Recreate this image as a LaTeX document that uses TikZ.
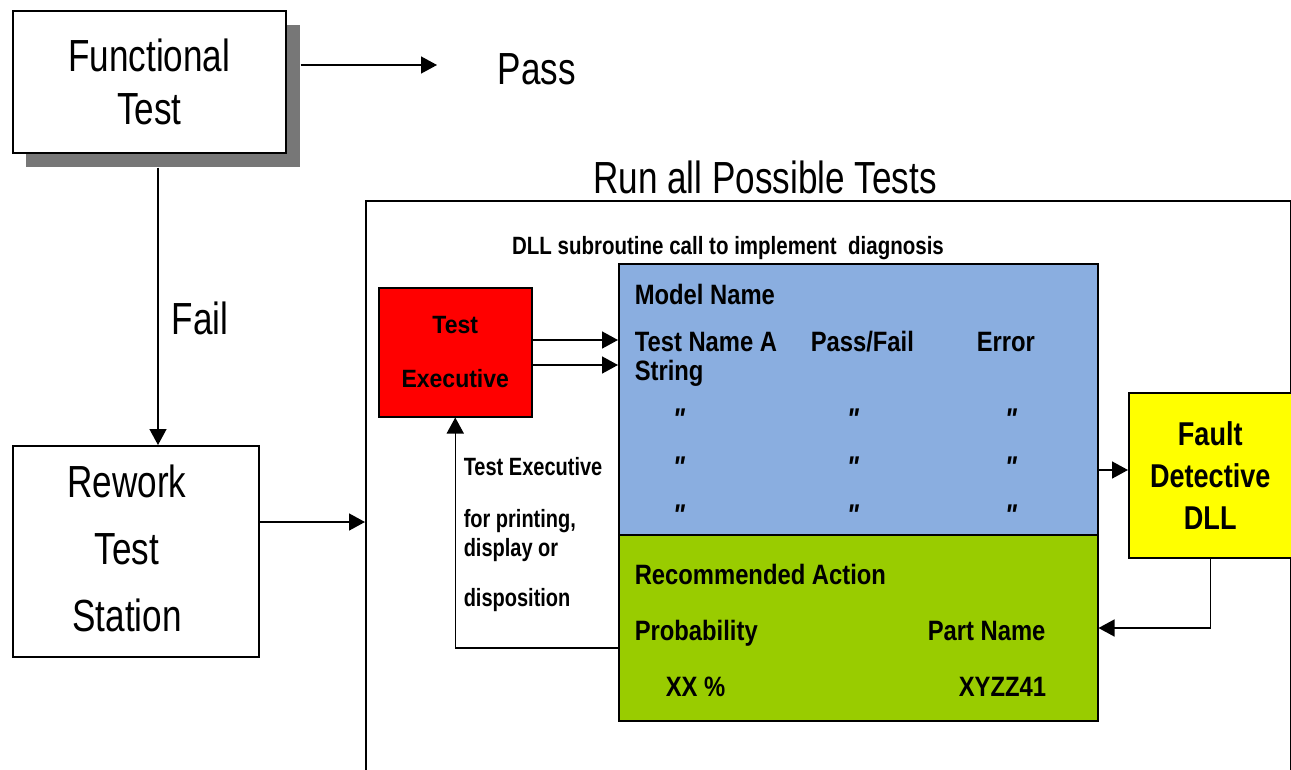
\documentclass[tikz,border=0pt]{standalone}
\usepackage{fontspec}
\setmainfont{Liberation Sans}[FakeStretch=0.82]
\newfontfamily\bigfam{Liberation Sans}[FakeStretch=0.78]
\newfontfamily\labfam{Liberation Sans}[FakeStretch=0.85]
\newfontfamily\redfam{Liberation Sans}[FakeStretch=0.92]
\newfontfamily\sidefam{Liberation Sans}[FakeStretch=0.80]
\newfontfamily\quotfam{Liberation Sans}[FakeStretch=0.85]
\usetikzlibrary{arrows.meta}
\definecolor{bluebox}{RGB}{138,174,224}
\definecolor{greenbox}{RGB}{153,204,0}
\definecolor{yellowbox}{RGB}{255,255,0}
\definecolor{shadowgray}{RGB}{119,119,119}
\begin{document}
\begin{tikzpicture}[x=1pt,y=-1pt,line width=1.5pt,
  arr/.style={-{Triangle[length=16pt,width=17pt]},line width=1.5pt},
  box/.style={draw,line width=1.5pt,anchor=north west,inner sep=0pt,align=center},
  bigtxt/.style={font=\bigfam\fontsize{45}{53}\selectfont},
  lbl/.style={anchor=base west,inner sep=0pt,font=\labfam\bfseries\fontsize{28}{34}\selectfont},
  side/.style={anchor=base west,inner sep=0pt,font=\sidefam\bfseries\fontsize{25}{28}\selectfont},
  quot/.style={inner sep=0pt,font=\quotfam\bfseries\itshape\fontsize{30}{30}\selectfont}]
\useasboundingbox (0,0) rectangle (1291,769);
% functional test with shadow
\node[fill=shadowgray,anchor=north west,inner sep=0pt,minimum width=274pt,minimum height=142pt] (ftshadow) at (25,24) {};
\node[box,fill=white,minimum width=273pt,minimum height=142pt,bigtxt] (ft) at (12,10) {Functional\\Test};
\node[anchor=base,inner sep=0pt,bigtxt] (pass) at (537,84) {Pass};
\coordinate (passin) at (437,65);
\draw[arr] (ftshadow.east |- passin) -- (passin);
% rework
\node[box,minimum width=246pt,minimum height=211pt] (rw) at (12,445) {};
\node[anchor=center,inner sep=0pt,align=center,font=\bigfam\fontsize{45}{67}\selectfont] (rwtext) at (127,548) {Rework\\Test\\Station};
\coordinate (failx) at (158,0);
\draw[arr] (failx |- ftshadow.south) -- (failx |- rw.north);
\node[anchor=base,inner sep=0pt,bigtxt] (fail) at (200,334) {Fail};
% big frame
\node[draw,anchor=north west,inner sep=0pt,minimum width=925pt,minimum height=620pt] (run) at (365,200) {};
\node[anchor=base,inner sep=0pt,bigtxt] (runlbl) at (765,193) {Run all Possible Tests};
\draw[arr] (rw.east |- 0,522) -- (run.west |- 0,522);
\node[anchor=base,inner sep=0pt,font=\bfseries\fontsize{25}{30}\selectfont] (dll) at (728,254) {DLL subroutine call to implement\ \ diagnosis};
% boxes
\node[box,fill=red,minimum width=153pt,minimum height=129pt,font=\redfam\bfseries\fontsize{25}{54}\selectfont] (te) at (378,287) {Test\\Executive};
\node[box,fill=bluebox,minimum width=479pt,minimum height=271pt] (blue) at (618,263) {};
\node[box,fill=greenbox,minimum width=479pt,minimum height=186pt] (green) at (618,534) {};
\node[box,fill=yellowbox,minimum width=163pt,minimum height=165pt,font=\bfseries\fontsize{33}{42}\selectfont] (yel) at (1128,392) {Fault\\Detective\\DLL};
% connectors
\draw[arr] (te.east |- 0,340) -- (blue.west |- 0,340);
\draw[arr] (te.east |- 0,365) -- (blue.west |- 0,365);
\draw[arr] (blue.east |- 0,470) -- (yel.west |- 0,470);
\draw[arr] (yel.south) -- (yel.south |- 0,628) -- (green.east |- 0,628);
\draw[arr] (green.west |- 0,648) -| (te.south);
% side text
\node[side] (s1) at (463,475) {Test Executive};
\node[side] (s2) at (463,527) {for printing,};
\node[side] (s3) at (463,556) {display or};
\node[side] (s4) at (463,606) {disposition};
% blue content
\node[lbl] (mn) at (634,304) {Model Name};
\node[lbl] (tna) at (634,351) {Test Name A};
\node[lbl] (str) at (634,380) {String};
\node[lbl] (pf) at (810,351) {Pass/Fail};
\node[lbl] (err) at (976,351) {Error};
\foreach \r/\y in {1/419,2/467,3/515}{
  \node[quot] (qa\r) at (679,\y) {\symbol{"22}};
  \node[quot] (qb\r) at (853,\y) {\symbol{"22}};
  \node[quot] (qc\r) at (1011,\y) {\symbol{"22}};
}
% green content
\node[lbl] (ra) at (634,584) {Recommended Action};
\node[lbl] (prob) at (634,640) {Probability};
\node[lbl] (pn) at (927,640) {Part Name};
\node[lbl] (xx) at (665,696) {XX \%};
\node[lbl] (xyz) at (958,696) {XYZZ41};
\end{tikzpicture}
\end{document}
